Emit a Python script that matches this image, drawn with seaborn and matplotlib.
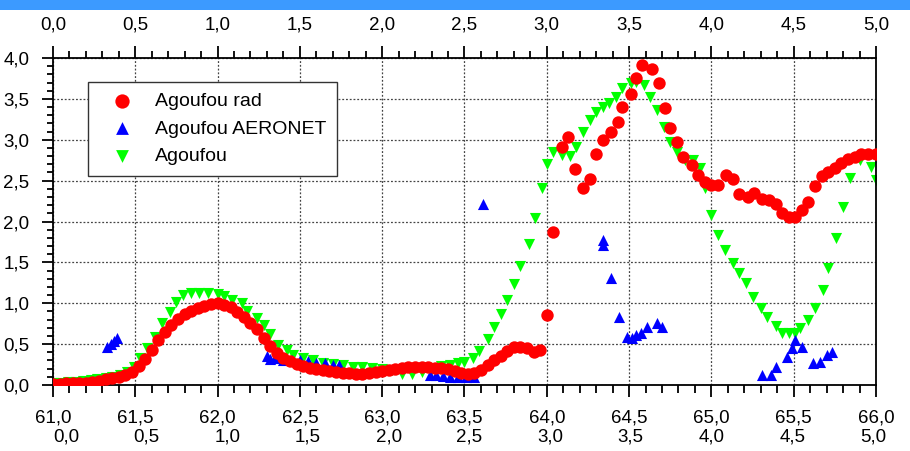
import matplotlib
matplotlib.use('Agg')
import matplotlib.pyplot as plt
import seaborn as sns
from matplotlib.ticker import MultipleLocator, FuncFormatter
from matplotlib.patches import Rectangle

# ---- data ----
rad_x = [61.00, 61.04, 61.08, 61.12, 61.16, 61.20, 61.24, 61.28, 61.32, 61.36,
         61.40, 61.44, 61.48, 61.52, 61.56, 61.60, 61.64, 61.68, 61.72, 61.76,
         61.80, 61.84, 61.88, 61.92, 61.96, 62.00, 62.04, 62.08, 62.12, 62.16,
         62.20, 62.24, 62.28, 62.32, 62.36, 62.40, 62.44, 62.48, 62.52, 62.56,
         62.60, 62.64, 62.68, 62.72, 62.76, 62.80, 62.84, 62.88, 62.92, 62.96,
         63.00, 63.04, 63.08, 63.12, 63.16, 63.20, 63.24, 63.28, 63.32, 63.36,
         63.40, 63.44, 63.48, 63.52, 63.56, 63.60, 63.64, 63.68, 63.72, 63.76,
         63.80, 63.84, 63.88, 63.92, 63.96,
         64.00, 64.04, 64.09, 64.13, 64.17, 64.22, 64.26, 64.30, 64.34, 64.39,
         64.43, 64.46, 64.51, 64.54, 64.58, 64.64, 64.68, 64.72, 64.75, 64.79,
         64.83, 64.88, 64.92, 64.96, 65.00, 65.04, 65.09, 65.13, 65.17, 65.22,
         65.26, 65.31, 65.35, 65.39, 65.43, 65.47, 65.51, 65.55, 65.59, 65.63,
         65.67, 65.71, 65.75, 65.79, 65.83, 65.87, 65.91, 65.95, 66.00]
rad_y = [0.01, 0.01, 0.02, 0.02, 0.03, 0.03, 0.04, 0.05, 0.07, 0.08,
         0.10, 0.12, 0.16, 0.23, 0.32, 0.43, 0.55, 0.65, 0.74, 0.81,
         0.87, 0.91, 0.94, 0.97, 0.99, 1.00, 0.98, 0.95, 0.89, 0.83,
         0.76, 0.68, 0.58, 0.48, 0.39, 0.33, 0.29, 0.26, 0.23, 0.21,
         0.19, 0.18, 0.17, 0.16, 0.15, 0.15, 0.14, 0.14, 0.15, 0.16,
         0.17, 0.18, 0.20, 0.21, 0.22, 0.22, 0.22, 0.22, 0.21, 0.21,
         0.19, 0.17, 0.15, 0.14, 0.15, 0.18, 0.24, 0.30, 0.36, 0.42,
         0.46, 0.47, 0.45, 0.40, 0.43,
         0.86, 1.87, 2.91, 3.03, 2.64, 2.41, 2.52, 2.83, 3.00, 3.10,
         3.22, 3.40, 3.56, 3.75, 3.91, 3.87, 3.69, 3.39, 3.14, 2.97,
         2.79, 2.69, 2.57, 2.48, 2.45, 2.45, 2.57, 2.52, 2.34, 2.30,
         2.35, 2.27, 2.26, 2.21, 2.10, 2.06, 2.05, 2.14, 2.24, 2.43,
         2.56, 2.61, 2.65, 2.71, 2.76, 2.79, 2.82, 2.83, 2.83]

aeronet_x = [61.33, 61.35, 61.37, 61.39,
             62.30, 62.32, 62.35, 62.40, 62.45, 62.50, 62.55, 62.60, 62.65, 62.70, 62.74,
             63.29, 63.33, 63.37, 63.41, 63.46, 63.51, 63.56,
             63.61, 64.34, 64.34, 64.39, 64.44, 64.49, 64.52, 64.54, 64.57, 64.61,
             64.67, 64.70,
             65.31, 65.36, 65.39, 65.46, 65.49, 65.51, 65.55, 65.62, 65.66, 65.70, 65.73]
aeronet_y = [0.46, 0.50, 0.54, 0.57,
             0.35, 0.32, 0.33, 0.31, 0.30, 0.30, 0.29, 0.27, 0.27, 0.25, 0.24,
             0.12, 0.12, 0.11, 0.10, 0.10, 0.10, 0.10,
             2.21, 1.77, 1.71, 1.31, 0.83, 0.59, 0.57, 0.61, 0.64, 0.71,
             0.76, 0.71,
             0.12, 0.12, 0.22, 0.34, 0.45, 0.55, 0.46, 0.27, 0.28, 0.37, 0.40]

model_x = [61.00, 61.05, 61.09, 61.14, 61.18, 61.23, 61.27, 61.32, 61.36, 61.41,
           61.45, 61.49, 61.53, 61.57, 61.62, 61.66, 61.71, 61.75, 61.79, 61.84,
           61.89, 61.94, 62.00, 62.04, 62.09, 62.15, 62.18, 62.24, 62.28, 62.32,
           62.37, 62.42, 62.46, 62.52, 62.58, 62.64, 62.70, 62.76, 62.82, 62.88,
           62.94, 63.00, 63.06, 63.12, 63.18, 63.24, 63.30, 63.36, 63.41, 63.46,
           63.50, 63.55, 63.59, 63.64, 63.68, 63.72, 63.76, 63.80, 63.84, 63.89,
           63.93, 63.97, 64.00, 64.04, 64.09, 64.14, 64.18, 64.22, 64.26, 64.30,
           64.34, 64.38, 64.42, 64.46, 64.51, 64.54, 64.59, 64.63, 64.67, 64.71,
           64.75, 64.79, 64.84, 64.89, 64.93, 64.96, 65.00, 65.04, 65.08, 65.13,
           65.17, 65.21, 65.25, 65.30, 65.34, 65.39, 65.43, 65.47, 65.51, 65.54,
           65.59, 65.63, 65.68, 65.71, 65.76, 65.80, 65.84, 65.90, 65.97, 66.00]
model_y = [0.03, 0.03, 0.04, 0.04, 0.05, 0.06, 0.07, 0.08, 0.10, 0.12,
           0.16, 0.22, 0.33, 0.45, 0.59, 0.76, 0.89, 1.02, 1.10, 1.12,
           1.13, 1.12, 1.11, 1.09, 1.04, 1.00, 0.91, 0.82, 0.73, 0.63,
           0.49, 0.43, 0.37, 0.33, 0.31, 0.27, 0.26, 0.24, 0.22, 0.22,
           0.21, 0.20, 0.18, 0.14, 0.13, 0.16, 0.20, 0.23, 0.24, 0.27,
           0.28, 0.33, 0.42, 0.56, 0.71, 0.87, 1.04, 1.23, 1.46, 1.72,
           2.04, 2.41, 2.70, 2.85, 2.81, 2.80, 2.91, 3.09, 3.24, 3.34,
           3.40, 3.45, 3.52, 3.63, 3.69, 3.71, 3.67, 3.52, 3.36, 3.16,
           2.97, 2.85, 2.75, 2.75, 2.65, 2.41, 2.08, 1.83, 1.65, 1.49,
           1.37, 1.25, 1.08, 0.94, 0.83, 0.72, 0.64, 0.64, 0.64, 0.70,
           0.80, 0.94, 1.16, 1.43, 1.80, 2.18, 2.53, 2.75, 2.67, 2.51]

labels = ['Agoufou rad', 'Agoufou AERONET', 'Agoufou']
# second scale (0..5) shown on top and under the bottom axis
scale_ticks = [0.0, 0.5, 1.0, 1.5, 2.0, 2.5, 3.0, 3.5, 4.0, 4.5, 5.0]

sns.set_theme(style="white")
plt.rcParams['font.family'] = ['Liberation Sans', 'DejaVu Sans']
plt.rcParams['axes.linewidth'] = 1.3
plt.rcParams['text.color'] = 'black'
plt.rcParams['xtick.color'] = 'black'
plt.rcParams['ytick.color'] = 'black'

fig = plt.figure(figsize=(9.1, 4.51), dpi=100)
ax = fig.add_axes([0.0582, 0.1463, 0.9044, 0.7251])

# blue strip at the very top of the picture
fig.patches.append(Rectangle((0, 0.978), 1, 0.022, transform=fig.transFigure,
                             facecolor='#3c9aff', edgecolor='none'))

sns.scatterplot(x=model_x, y=model_y, color='#00ff00', marker='v', s=64,
                linewidth=0, ax=ax, label=labels[2], zorder=2)
sns.scatterplot(x=aeronet_x, y=aeronet_y, color='#0000ff', marker='^', s=64,
                linewidth=0, ax=ax, label=labels[1], zorder=3)
sns.scatterplot(x=rad_x, y=rad_y, color='#ff0000', marker='o', s=80,
                linewidth=0, ax=ax, label=labels[0], zorder=4)

ax.set_xlim(61, 66)
ax.set_ylim(0, 4)
ax.set_xlabel('')
ax.set_ylabel('')

comma = FuncFormatter(lambda v, p: f"{v:.1f}".replace('.', ','))
ax.xaxis.set_major_locator(MultipleLocator(0.5))
ax.xaxis.set_minor_locator(MultipleLocator(0.1))
ax.yaxis.set_major_locator(MultipleLocator(0.5))
ax.yaxis.set_minor_locator(MultipleLocator(0.1))
ax.xaxis.set_major_formatter(comma)
ax.yaxis.set_major_formatter(comma)

ax.tick_params(which='both', direction='out', colors='black', width=1.3,
               labelsize=13.5, top=False, right=False, bottom=True, left=True)
ax.tick_params(axis='x', which='major', length=8.6, pad=9)
ax.tick_params(axis='x', which='minor', length=5.5)
ax.tick_params(axis='y', which='major', length=8, pad=9)
ax.tick_params(axis='y', which='minor', length=4.3)

for s in ax.spines.values():
    s.set_visible(True)
    s.set_color('black')

ax.grid(True, which='major', color='#444444', linewidth=0.9,
        linestyle=(0, (1.5, 1.5)))
ax.set_axisbelow(True)

# top axis: 0,0 .. 5,0 over 61..66
top = ax.twiny()
top.set_xlim(0, 5)
top.set_xticks(scale_ticks)
top.xaxis.set_minor_locator(MultipleLocator(0.1))
top.xaxis.set_major_formatter(FuncFormatter(lambda v, p: f"{v:.1f}".replace('.', ',')))
top.tick_params(which='both', direction='out', width=1.3, labelsize=13.5,
                colors='black', top=True, labeltop=True, bottom=False,
                labelbottom=False, left=False, right=False,
                labelleft=False, labelright=False)
top.tick_params(which='major', length=9, pad=8.5)
top.tick_params(which='minor', length=5)
for s in top.spines.values():
    s.set_visible(False)
top.grid(False)

# second row of labels under the bottom axis (slightly shorter scale)
bot = ax.twiny()
bot.set_xlim(-0.0806, 5.0188)
bot.set_xticks(scale_ticks)
bot.xaxis.set_major_formatter(FuncFormatter(lambda v, p: f"{v:.1f}".replace('.', ',')))
bot.xaxis.set_ticks_position('bottom')
bot.xaxis.set_label_position('bottom')
bot.tick_params(which='both', length=0, labelsize=13.5, pad=31.5,
                colors='black', top=False, labeltop=False, bottom=True,
                labelbottom=True, left=False, right=False,
                labelleft=False, labelright=False)
for s in bot.spines.values():
    s.set_visible(False)
bot.grid(False)

handles, labs = ax.get_legend_handles_labels()
order = [labs.index(l) for l in labels]
leg = ax.legend([handles[i] for i in order], labels, loc='upper left',
                bbox_to_anchor=(0.0425, 0.927), borderaxespad=0,
                fontsize=14, frameon=True, fancybox=False, framealpha=1,
                edgecolor='#333333', borderpad=0.55, handlelength=2.4,
                handletextpad=0.5, labelspacing=0.5, markerscale=1.15)
leg.get_frame().set_linewidth(1.0)
# keep legend above the twin axes
leg.remove()
bot.add_artist(leg)

fig.savefig('out.png', dpi=100)
